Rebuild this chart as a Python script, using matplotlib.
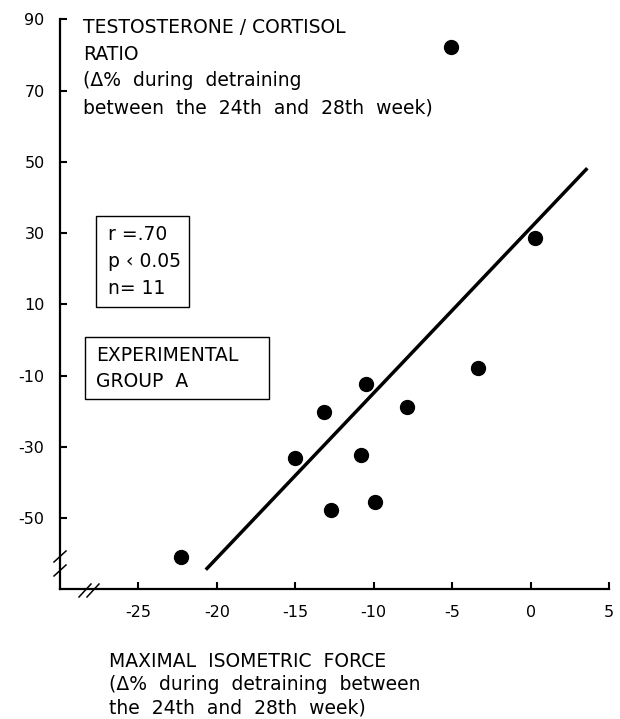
import matplotlib
matplotlib.use('Agg')
import matplotlib.pyplot as plt
from matplotlib.patches import Rectangle
from matplotlib.lines import Line2D

# values
force = [-22.25, -15.0, -13.2, -12.7, -10.8, -10.5, -9.9, -7.9, -5.1, -3.35, 0.25]
ratio = [-61.0, -33.2, -20.1, -47.6, -32.4, -12.4, -45.6, -18.9, 82.3, -7.9, 28.6]
fit_x = [-20.7, 3.6]
fit_y = [-64.5, 48.2]
xticks = [-25, -20, -15, -10, -5, 0, 5]
yticks = [90, 70, 50, 30, 10, -10, -30, -50]

title_lines = ['TESTOSTERONE / CORTISOL', 'RATIO',
               '(\u0394%  during  detraining', 'between  the  24th  and  28th  week)']
xlabel_lines = ['MAXIMAL  ISOMETRIC  FORCE', '(\u0394%  during  detraining  between',
                'the  24th  and  28th  week)']
stats_lines = ['r =.70', 'p \u2039 0.05', 'n= 11']
group_lines = ['EXPERIMENTAL', 'GROUP  A']

plt.rcParams['font.family'] = 'DejaVu Sans'
plt.rcParams['axes.unicode_minus'] = False

W, H = 620, 719


def px(x, y):
    # pixel position in the 620x719 picture -> figure fraction
    return x / W, 1 - y / H


fig = plt.figure(figsize=(6.2, 7.19), dpi=100)
ax = fig.add_axes([59.8 / W, 1 - 589.3 / H, 549.5 / W, 570.0 / H])

ax.plot(fit_x, fit_y, color='black', lw=2.5, solid_capstyle='butt')
ax.plot(force, ratio, 'o', color='black', ms=10)

ax.set_xlim(-30, 5)
ax.set_ylim(-70, 90)
ax.set_xticks(xticks)
ax.set_yticks(yticks)
ax.tick_params(direction='in', length=5, width=1.5, labelsize=11.5)
ax.tick_params(axis='x', pad=11)
ax.tick_params(axis='y', pad=11)
for side in ['top', 'right']:
    ax.spines[side].set_visible(False)
for side in ['left', 'bottom']:
    ax.spines[side].set_linewidth(1.6)

# axis break marks
for x0, y0, x1, y1 in [(54, 562, 66, 551), (54, 576, 66, 565),
                       (79, 597, 91, 584), (87, 597, 99, 584)]:
    fig.add_artist(Line2D([px(x0, y0)[0], px(x1, y1)[0]],
                          [px(x0, y0)[1], px(x1, y1)[1]],
                          color='black', lw=1.1, transform=fig.transFigure))

for i, s in enumerate(title_lines):
    fig.text(*px(82.7, 33 + 26.7 * i), s, fontsize=13.5, va='baseline')

for i, s in enumerate(xlabel_lines):
    fig.text(*px(109, 667 + 23.5 * i), s, fontsize=13.5, va='baseline')

# boxes
fig.add_artist(Rectangle(px(95.7, 306.7), 93.3 / W, 91.0 / H, fill=False,
                         lw=1.0, transform=fig.transFigure))
for i, s in enumerate(stats_lines):
    fig.text(*px(108.3, 235 + 26.9 * i), s, fontsize=13.5, va='center')

fig.add_artist(Rectangle(px(85, 399), 184.3 / W, 61.7 / H, fill=False,
                         lw=1.0, transform=fig.transFigure))
for i, s in enumerate(group_lines):
    fig.text(*px(95.7, 355.5 + 26.4 * i), s, fontsize=13.5, va='center')

fig.savefig('out.png', dpi=100)
